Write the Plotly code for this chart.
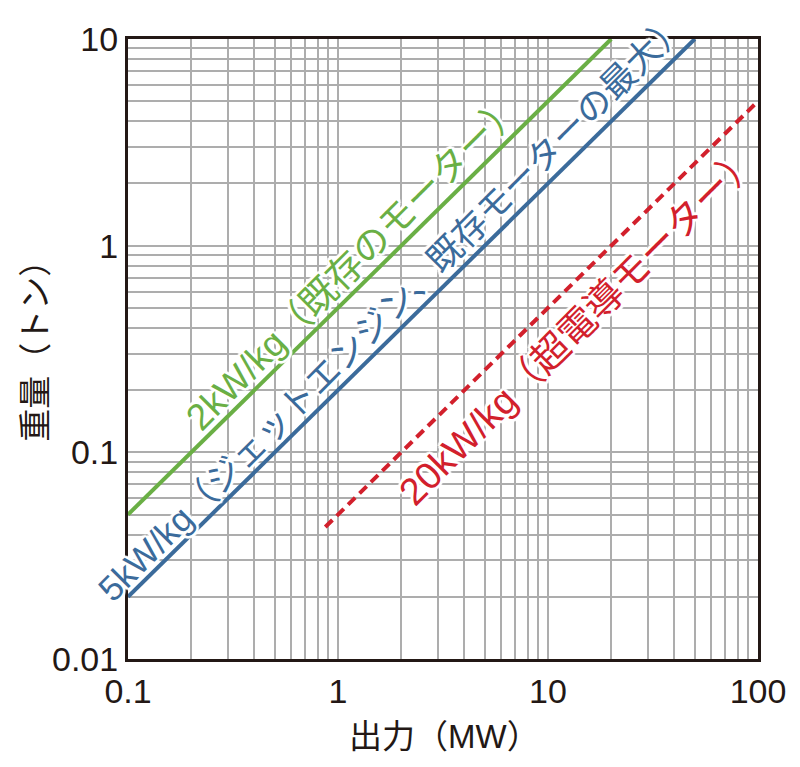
import numpy as np
import plotly.graph_objects as go

# ---- data ----
series_names = ["2kW/kg（既存のモーター）", "5kW/kg（ジェットエンジン、既存モーターの最大）", "20kW/kg（超電導モーター）"]
power_x_2kw = [0.1, 20]        # MW
weight_y_2kw = [0.05, 10]      # t
power_x_5kw = [0.1, 50]
weight_y_5kw = [0.02, 10]
power_x_20kw = [0.87, 100]
weight_y_20kw = [0.0435, 5]

x_tick_vals = [0.1, 1, 10, 100]
x_tick_text = ["0.1", "1", "10", "100"]
y_tick_vals = [0.01, 0.1, 1, 10]
y_tick_text = ["0.01", "0.1", "1", "10"]
x_title = "出力（MW）"
y_title = "重量（トン）"

GREEN = "#6aaf45"
BLUE = "#3b6b9b"
RED = "#d2202c"
GRID = "#adadad"
DARK = "#231815"
FONT = "Liberation Sans, Noto Sans CJK JP"


def grid_vals(lo_exp, hi_exp):
    vals = []
    for e in range(lo_exp, hi_exp):
        for m in range(1, 10):
            vals.append(m * 10.0 ** e)
    vals.append(10.0 ** hi_exp)
    return vals


def lab(v, vals, texts):
    for t, s in zip(vals, texts):
        if abs(v - t) < 1e-9 * max(1, t):
            return s
    return ""


xg = grid_vals(-1, 2)
yg = grid_vals(-2, 1)
xg_text = [lab(v, x_tick_vals, x_tick_text) for v in xg]
yg_text = [lab(v, y_tick_vals, y_tick_text) for v in yg]

fig = go.Figure()
fig.add_trace(go.Scatter(x=power_x_2kw, y=weight_y_2kw, mode="lines",
                         line=dict(color=GREEN, width=4), name=series_names[0]))
fig.add_trace(go.Scatter(x=power_x_5kw, y=weight_y_5kw, mode="lines",
                         line=dict(color=BLUE, width=4), name=series_names[1]))
fig.add_trace(go.Scatter(x=power_x_20kw, y=weight_y_20kw, mode="lines",
                         line=dict(color=RED, width=4, dash="10px,6px"), name=series_names[2]))

shadow = ", ".join(f"white {dx}px {dy}px 1px" for dx, dy in
                   [(3, 0), (-3, 0), (0, 3), (0, -3), (2, 2), (-2, -2), (2, -2), (-2, 2)])


def on_line(xs, ys, xv):
    k = ys[0] / xs[0]
    return xv, xv * k


label_specs = [
    (power_x_2kw, weight_y_2kw, 1.40, series_names[0], GREEN, -15, 15, 37),
    (power_x_5kw, weight_y_5kw, 2.14, series_names[1], BLUE, -15, 15, 35),
    (power_x_20kw, weight_y_20kw, 10.8, series_names[2], RED, 24, -24, 38),
]
for xs, ys, xv, txt, col, dx, dy, fs in label_specs:
    px, py = on_line(xs, ys, xv)
    fig.add_annotation(x=np.log10(px), y=np.log10(py), xref="x", yref="y",
                       text=txt, showarrow=False, textangle=-45,
                       xshift=dx, yshift=dy,
                       font=dict(family=FONT, size=fs, color=col, shadow=shadow))

fig.add_annotation(x=0.503, y=-0.125, xref="paper", yref="paper", text=x_title,
                   showarrow=False, xanchor="center", yanchor="middle",
                   font=dict(family=FONT, size=33, color=DARK))
fig.add_annotation(x=-0.151, y=0.51, xref="paper", yref="paper", text=y_title,
                   showarrow=False, textangle=-90, xanchor="center", yanchor="middle",
                   font=dict(family="Noto Sans CJK JP", size=33, color=DARK))

axis_common = dict(type="log", showgrid=True, gridcolor=GRID, gridwidth=2,
                   showline=True, mirror=True, linecolor=DARK, linewidth=3,
                   ticks="", zeroline=False,
                   tickfont=dict(family="Liberation Sans", size=34, color=DARK))
fig.update_xaxes(range=[-1, 2], tickmode="array", tickvals=xg, ticktext=xg_text, **axis_common)
fig.update_yaxes(range=[-2, 1], tickmode="array", tickvals=yg, ticktext=yg_text, **axis_common)

fig.update_layout(width=792, height=759, showlegend=False,
                  plot_bgcolor="white", paper_bgcolor="white",
                  margin=dict(l=120, r=42, t=21, b=108))
fig.write_html("out.html")
